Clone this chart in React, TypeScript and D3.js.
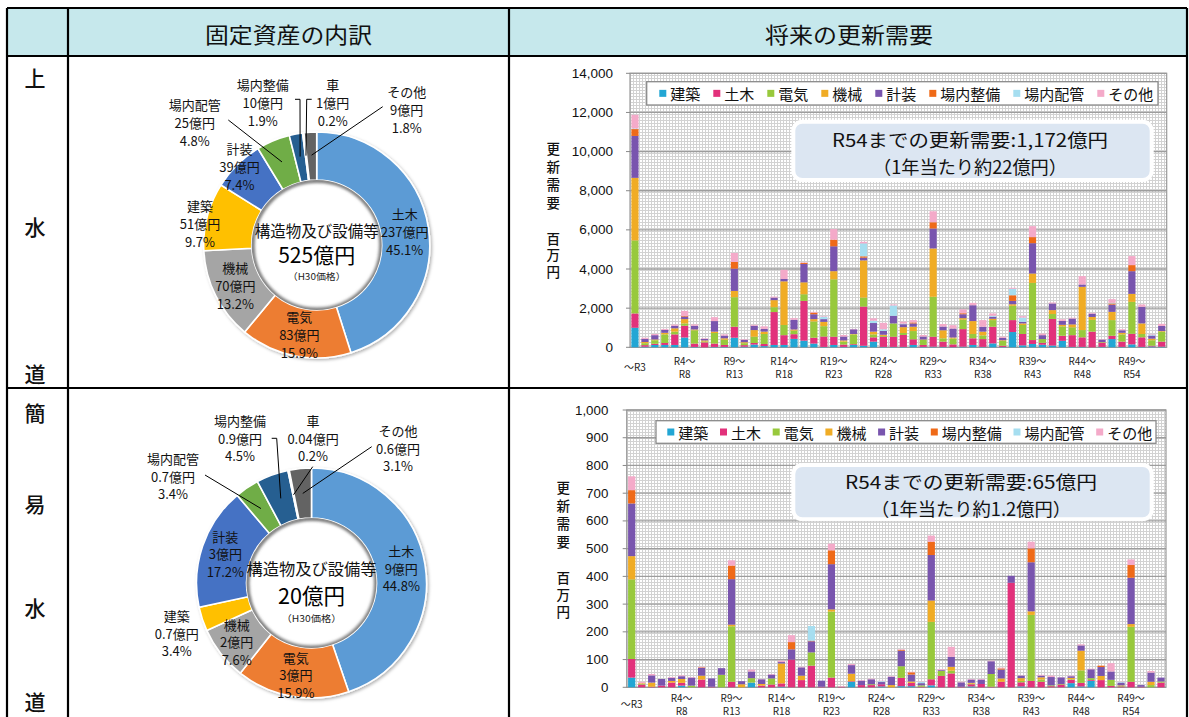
import React from 'react';
import * as d3 from 'd3';

const W = 1189;
const H = 717;
const JP = '"Noto Sans CJK JP", "Noto Sans", sans-serif';
const NUM = '"Liberation Sans", Arial, sans-serif';

// ---------- categories ----------
const YEARS = [
  'R1', 'R2', 'R3', 'R4', 'R5', 'R6', 'R7', 'R8', 'R9', 'R10',
  'R11', 'R12', 'R13', 'R14', 'R15', 'R16', 'R17', 'R18', 'R19', 'R20',
  'R21', 'R22', 'R23', 'R24', 'R25', 'R26', 'R27', 'R28', 'R29', 'R30',
  'R31', 'R32', 'R33', 'R34', 'R35', 'R36', 'R37', 'R38', 'R39', 'R40',
  'R41', 'R42', 'R43', 'R44', 'R45', 'R46', 'R47', 'R48', 'R49', 'R50',
  'R51', 'R52', 'R53', 'R54',
];
const X_GROUPS = [
  { at: 'R1', lines: ['～R3'] },
  { at: 'R6', lines: ['R4～', 'R8'] },
  { at: 'R11', lines: ['R9～', 'R13'] },
  { at: 'R16', lines: ['R14～', 'R18'] },
  { at: 'R21', lines: ['R19～', 'R23'] },
  { at: 'R26', lines: ['R24～', 'R28'] },
  { at: 'R31', lines: ['R29～', 'R33'] },
  { at: 'R36', lines: ['R34～', 'R38'] },
  { at: 'R41', lines: ['R39～', 'R43'] },
  { at: 'R46', lines: ['R44～', 'R48'] },
  { at: 'R51', lines: ['R49～', 'R54'] },
];
const SERIES = ['建築', '土木', '電気', '機械', '計装', '場内整備', '場内配管', 'その他'];
const SERIES_COLORS = ['#22a6d4', '#e2317b', '#98c93c', '#f0ac25', '#7955ae', '#ef6a18', '#a6def0', '#f4aac9'];

// ---------- 上水道 renewal demand (百万円) ----------
const J_KENCHIKU = [1000, 30, 120, 120, 120, 500, 20, 0, 20, 20, 490, 30, 140, 60, 120, 120, 430, 340, 190, 20, 120, 20, 120, 80, 290, 20, 20, 20, 120, 20, 30, 20, 10, 30, 120, 20, 200, 20, 780, 100, 170, 130, 90, 330, 20, 20, 0, 20, 420, 20, 150, 20, 40, 30];
const J_DOBOKU = [730, 80, 60, 100, 540, 600, 170, 250, 170, 100, 560, 80, 80, 110, 1680, 500, 240, 2030, 300, 530, 420, 120, 40, 2000, 220, 520, 520, 610, 290, 100, 510, 270, 140, 900, 340, 400, 850, 60, 610, 580, 200, 100, 1360, 260, 600, 490, 800, 220, 170, 270, 540, 490, 40, 260];
const J_DENKI = [3730, 100, 180, 440, 140, 120, 680, 50, 540, 270, 1510, 100, 320, 510, 250, 520, 180, 340, 830, 530, 2930, 150, 500, 460, 150, 40, 680, 100, 420, 260, 2040, 170, 300, 480, 220, 190, 340, 250, 730, 460, 2920, 190, 250, 480, 400, 370, 600, 30, 800, 370, 1630, 170, 280, 510];
const J_KIKAI = [3200, 60, 40, 80, 170, 220, 40, 50, 70, 70, 320, 50, 340, 120, 360, 2230, 60, 610, 120, 220, 420, 60, 20, 1900, 140, 60, 0, 300, 220, 20, 2470, 410, 50, 80, 660, 190, 70, 30, 80, 80, 480, 0, 200, 80, 150, 2210, 150, 0, 420, 80, 410, 540, 80, 30];
const J_KEISO = [2140, 160, 220, 150, 130, 130, 190, 80, 540, 140, 1140, 120, 220, 140, 130, 120, 500, 940, 250, 140, 1270, 200, 240, 140, 440, 200, 390, 150, 170, 150, 1020, 190, 460, 200, 810, 250, 100, 120, 170, 80, 1550, 200, 340, 200, 300, 120, 170, 120, 370, 130, 1160, 850, 160, 260];
const J_JONAISEIBI = [350, 0, 0, 0, 0, 30, 0, 0, 0, 0, 340, 0, 0, 0, 0, 0, 0, 50, 80, 0, 340, 0, 0, 70, 0, 0, 0, 0, 50, 0, 320, 0, 0, 50, 0, 0, 0, 0, 290, 0, 310, 0, 0, 0, 0, 0, 0, 0, 60, 0, 310, 0, 0, 0];
const J_JONAIHAIKAN = [30, 0, 0, 0, 0, 0, 0, 0, 0, 0, 0, 0, 0, 0, 0, 0, 0, 0, 0, 120, 0, 0, 0, 660, 120, 80, 530, 30, 0, 0, 0, 0, 0, 0, 0, 0, 50, 0, 330, 220, 0, 0, 0, 0, 0, 0, 0, 0, 30, 0, 0, 0, 50, 0];
const J_SONOTA = [700, 60, 60, 50, 60, 260, 70, 30, 200, 60, 460, 30, 50, 130, 50, 470, 80, 30, 40, 30, 540, 80, 20, 80, 120, 330, 50, 100, 120, 80, 560, 130, 170, 200, 120, 340, 120, 60, 50, 70, 560, 80, 50, 80, 40, 430, 40, 20, 190, 50, 460, 120, 30, 110];

// ---------- 簡易水道 renewal demand (百万円) ----------
const K_KENCHIKU = [35, 0, 0, 0, 0, 6, 0, 0, 0, 0, 0, 0, 17, 0, 0, 2, 0, 0, 0, 0, 0, 0, 20, 0, 0, 3, 0, 4, 4, 0, 7, 0, 0, 0, 3, 0, 0, 0, 0, 3, 0, 0, 0, 0, 15, 3, 23, 0, 0, 0, 0, 0, 0, 0];
const K_DOBOKU = [67, 10, 2, 6, 17, 10, 0, 28, 2, 0, 20, 0, 0, 6, 10, 12, 100, 26, 78, 2, 35, 2, 2, 8, 8, 8, 0, 30, 12, 2, 22, 41, 50, 2, 8, 12, 2, 20, 377, 15, 23, 20, 4, 10, 12, 13, 3, 26, 5, 3, 20, 2, 0, 17];
const K_DENKI = [287, 3, 0, 0, 0, 0, 6, 0, 0, 45, 200, 0, 16, 0, 22, 0, 0, 0, 48, 0, 238, 0, 0, 0, 3, 0, 0, 42, 0, 5, 207, 18, 10, 0, 2, 0, 46, 0, 0, 5, 238, 8, 3, 2, 2, 45, 7, 0, 22, 2, 198, 0, 8, 4];
const K_KIKAI = [84, 2, 15, 0, 6, 14, 0, 14, 0, 0, 6, 11, 0, 6, 0, 72, 0, 16, 0, 0, 8, 0, 27, 0, 0, 0, 8, 0, 5, 0, 77, 0, 14, 0, 3, 0, 0, 12, 0, 10, 13, 8, 0, 0, 5, 71, 0, 15, 0, 2, 10, 0, 12, 0];
const K_KEISO = [190, 0, 26, 24, 11, 10, 29, 28, 30, 24, 164, 11, 24, 17, 14, 5, 37, 30, 40, 22, 163, 0, 31, 16, 18, 8, 30, 56, 25, 8, 164, 3, 36, 16, 12, 16, 46, 32, 25, 9, 177, 6, 30, 24, 6, 19, 32, 32, 30, 10, 167, 6, 33, 14];
const K_JONAISEIBI = [48, 0, 0, 0, 0, 0, 0, 2, 0, 0, 49, 0, 0, 0, 0, 0, 26, 0, 2, 0, 50, 0, 0, 0, 0, 0, 0, 3, 8, 0, 48, 0, 0, 0, 0, 0, 0, 4, 0, 0, 50, 0, 0, 0, 0, 0, 0, 5, 0, 0, 46, 0, 0, 0];
const K_JONAIHAIKAN = [0, 0, 0, 0, 0, 0, 0, 0, 0, 0, 0, 0, 0, 0, 0, 0, 0, 0, 53, 0, 0, 0, 0, 0, 0, 3, 0, 0, 0, 4, 0, 0, 0, 0, 0, 0, 0, 0, 0, 0, 0, 0, 0, 0, 0, 0, 0, 0, 0, 2, 0, 0, 0, 0];
const K_SONOTA = [50, 5, 5, 0, 3, 3, 2, 2, 0, 0, 19, 0, 7, 1, 2, 5, 25, 2, 0, 0, 24, 2, 4, 2, 2, 2, 2, 2, 2, 1, 22, 3, 36, 2, 2, 2, 2, 3, 0, 1, 24, 3, 5, 1, 2, 4, 2, 0, 30, 1, 20, 0, 6, 0];

const ANNOT_TOP = ['R54までの更新需要:1,172億円', '（1年当たり約22億円）'];
const ANNOT_BOTTOM = ['R54までの更新需要:65億円', '（1年当たり約1.2億円）'];

// ---------- fixed assets breakdown ----------
const DONUT_CATS = ['土木', '電気', '機械', '建築', '計装', '場内配管', '場内整備', '車', 'その他'];
const DONUT_COLORS = ['#5b9bd5', '#ed7d31', '#a5a5a5', '#ffc000', '#4472c4', '#70ad47', '#255e91', '#9e480e', '#636363'];
const JOSUI_PCT = [45.1, 15.9, 13.2, 9.7, 7.4, 4.8, 1.9, 0.2, 1.8];
const JOSUI_AMT = ['237億円', '83億円', '70億円', '51億円', '39億円', '25億円', '10億円', '1億円', '9億円'];
const KANI_PCT = [44.8, 15.9, 7.6, 3.4, 17.2, 3.4, 4.5, 0.2, 3.1];
const KANI_AMT = ['9億円', '3億円', '2億円', '0.7億円', '3億円', '0.7億円', '0.9億円', '0.04億円', '0.6億円'];

// ---------- layout (positions kept apart from data) ----------
type LabelLayout = { r?: number; at?: [number, number]; lead?: [number, number][] };
const JOSUI_DONUT = {
  cx: 316.7, cy: 245, rOut: 113, rIn: 65, gap: 18,
  title: { y: 229.5, size: 15.5, len: 124 }, value: { text: '525億円', y: 254, size: 21, len: 77 }, sub: { y: 275.5, size: 9.5, len: 58 },
  labels: [
    { r: 89 }, { r: 91 }, { r: 91 }, { at: [-116.7, -22] }, { r: 110 },
    { at: [-122, -123], lead: [[-88.4, -125]] },
    { at: [-54, -143], lead: [[-21.7, -145.7], [-16.7, -145.7]] },
    { at: [16, -143], lead: [[-5, -145.7], [-10, -145.7]] },
    { at: [90, -136], lead: [[66, -138.3]] },
  ] as LabelLayout[],
};
const KANI_DONUT = {
  cx: 311.5, cy: 583, rOut: 115, rIn: 65, gap: 17.5,
  title: { y: 567.5, size: 16, len: 130 }, value: { text: '20億円', y: 594, size: 22, len: 67 }, sub: { y: 618, size: 9.5, len: 60 },
  labels: [
    { r: 91 }, { r: 93 }, { r: 95 }, { at: [-134.8, 50] }, { r: 91 },
    { at: [-138.5, -107], lead: [[-106.5, -108]] },
    { at: [-71.5, -145], lead: [[-39.8, -144.7], [-34.8, -144.7]] },
    { at: [1.5, -145], lead: [[1.2, -116.3]] },
    { at: [86.5, -135], lead: [[60.2, -136.3]] },
  ] as LabelLayout[],
};

const TOP_CFG = {
  id: 'top', x0: 630, x1: 1166.7, yBottom: 347.3, yTop: 73.3, yMax: 14000, yStep: 2000,
  tickRight: 613, tickFont: 13.5,
  yTitleX: 553.3, t1: { y0: 150.7, dy: 18.1 }, t2: { y0: 240, dy: 16.7 },
  xLab: { l1: 360, l2: 373.3, single: 366 },
  legend: { x: 646.7, y: 81.7, w: 511.3, h: 23.3, itemX0: 659.3, gap: 13, font: 15 },
  annot: { x: 793.3, y: 121.7, w: 358.4, h: 58.3, l1y: 139.3, l2y: 166, l1w: 276, l2w: 194, cx: 970 },
};
const BOTTOM_CFG = {
  id: 'bot', x0: 626.7, x1: 1166, yBottom: 687.3, yTop: 410, yMax: 1000, yStep: 100,
  tickRight: 608.3, tickFont: 13.3,
  yTitleX: 563.3, t1: { y0: 490, dy: 18.1 }, t2: { y0: 580, dy: 17 },
  xLab: { l1: 697, l2: 710.5, single: 703.5 },
  legend: { x: 656, y: 420.7, w: 500, h: 22.6, itemX0: 667.3, gap: 11.7, font: 15 },
  annot: { x: 793.3, y: 465, w: 358.4, h: 54.3, l1y: 480.8, l2y: 507.5, l1w: 252, l2w: 200, cx: 971 },
};

// ---------- components ----------
function Donut({ L, pct, amt }: { L: typeof JOSUI_DONUT; pct: number[]; amt: string[] }) {
  const pie = d3.pie<number>().sort(null).value((d) => d);
  const arcs = pie(pct);
  const arc = d3.arc<d3.PieArcDatum<number>>().innerRadius(L.rIn).outerRadius(L.rOut);
  const at = (a: d3.PieArcDatum<number>, r: number): [number, number] => {
    const m = (a.startAngle + a.endAngle) / 2;
    return [r * Math.sin(m), -r * Math.cos(m)];
  };
  const clipId = `hole-${Math.round(L.cx)}`;
  return (
    <g transform={`translate(${L.cx},${L.cy})`}>
      <defs>
        <clipPath id={clipId}><circle r={L.rIn} /></clipPath>
      </defs>
      <g filter="url(#dshadow)">
        {arcs.map((a, i) => (
          <path key={i} d={arc(a) || ''} fill={DONUT_COLORS[i]} stroke="#fff" strokeWidth={1.6} />
        ))}
      </g>
      <g clipPath={`url(#${clipId})`}>
        <circle r={L.rIn} fill="none" stroke="#7a7a7a" strokeWidth={5} filter="url(#blur2)" />
      </g>
      {arcs.map((a, i) => {
        const lay = L.labels[i];
        const p: [number, number] = lay.at ? lay.at : at(a, lay.r || 90);
        const lines = [DONUT_CATS[i], amt[i], `${pct[i].toFixed(1)}%`];
        let lead: string | null = null;
        if (lay.lead) {
          const end = at(a, 90);
          const pts = [...lay.lead, end];
          lead = d3.line()(pts as [number, number][]);
        }
        return (
          <g key={'l' + i}>
            {lead && <path d={lead} fill="none" stroke="#000" strokeWidth={1} />}
            {lines.map((t, k) => (
              <text key={k} x={p[0]} y={p[1] + (k - 1) * L.gap} textAnchor="middle" dominantBaseline="central"
                fontFamily={JP} fontSize={13} fill="#111">{t}</text>
            ))}
          </g>
        );
      })}
      <text x={0} y={L.title.y - L.cy} textAnchor="middle" dominantBaseline="central" fontFamily={JP}
        fontSize={L.title.size} textLength={L.title.len} lengthAdjust="spacingAndGlyphs" fill="#111">構造物及び設備等</text>
      <text x={0} y={L.value.y - L.cy} textAnchor="middle" dominantBaseline="central" fontFamily={JP}
        fontSize={L.value.size} textLength={L.value.len} lengthAdjust="spacingAndGlyphs" fill="#000">{L.value.text}</text>
      <text x={0} y={L.sub.y - L.cy} textAnchor="middle" dominantBaseline="central" fontFamily={JP}
        fontSize={L.sub.size} textLength={L.sub.len} lengthAdjust="spacingAndGlyphs" fill="#222">（H30価格）</text>
    </g>
  );
}

function VerticalTitle({ text, x, y0, dy, size }: { text: string; x: number; y0: number; dy: number; size: number }) {
  const n = text.length;
  const cy = y0 + ((n - 1) * dy) / 2;
  return (
    <text x={x} y={cy} textAnchor="middle" fontFamily={JP} fontSize={size} fontWeight={500} fill="#111"
      style={{ writingMode: 'vertical-rl' as any, letterSpacing: `${dy - size}px` }}>{text}</text>
  );
}

function StackedBars({ C, series, annot }: { C: typeof TOP_CFG; series: number[][]; annot: string[] }) {
  const rows = YEARS.map((yr, i) => {
    const o: Record<string, any> = { year: yr };
    SERIES.forEach((s, k) => { o[s] = series[k][i]; });
    return o;
  });
  const stacked = d3.stack<Record<string, any>>().keys(SERIES)(rows);
  const x = d3.scaleBand<string>().domain(YEARS).range([C.x0, C.x1]).paddingInner(0.28).paddingOuter(0.14);
  const y = d3.scaleLinear().domain([0, C.yMax]).range([C.yBottom, C.yTop]);
  const ticks = d3.range(0, C.yMax + 1, C.yStep);
  const fmt = d3.format(',');
  const bw = x.bandwidth();

  let lx = C.legend.itemX0;
  const legendItems = SERIES.map((s, i) => {
    const item = { s, i, x: lx };
    lx += 7 + 4 + s.length * C.legend.font + C.legend.gap;
    return item;
  });
  const ly = C.legend.y + C.legend.h / 2;

  return (
    <g>
      <rect x={C.x0} y={C.yTop} width={C.x1 - C.x0} height={C.yBottom - C.yTop} fill="url(#dots)" />
      {ticks.map((t) => (
        <line key={t} x1={C.x0} x2={C.x1} y1={y(t)} y2={y(t)} stroke="#9d9d9d" strokeWidth={1.3} />
      ))}
      <rect x={C.x0} y={C.yTop} width={C.x1 - C.x0} height={C.yBottom - C.yTop} fill="none" stroke="#9a9a9a" strokeWidth={1.2} />
      {ticks.map((t) => (
        <g key={'t' + t}>
          <line x1={C.x0 - 4} x2={C.x0} y1={y(t)} y2={y(t)} stroke="#888" strokeWidth={1} />
          <text x={C.tickRight} y={y(t)} textAnchor="end" dominantBaseline="central" fontFamily={NUM}
            fontSize={C.tickFont} fill="#111">{fmt(t)}</text>
        </g>
      ))}
      {stacked.map((layer, k) => (
        <g key={layer.key} fill={SERIES_COLORS[k]}>
          {layer.map((d, i) => {
            const h = y(d[0]) - y(d[1]);
            if (h <= 0) return null;
            return <rect key={i} x={x(YEARS[i])} y={y(d[1])} width={bw} height={h} />;
          })}
        </g>
      ))}
      <rect x={C.legend.x} y={C.legend.y} width={C.legend.w} height={C.legend.h} fill="#fff" stroke="#8a8a8a" strokeWidth={1.3} />
      {legendItems.map((it) => (
        <g key={it.s}>
          <rect x={it.x} y={ly - 3.5} width={7} height={7} fill={SERIES_COLORS[it.i]} />
          <text x={it.x + 11} y={ly} dominantBaseline="central" fontFamily={JP} fontSize={C.legend.font} fill="#111">{it.s}</text>
        </g>
      ))}
      <rect x={C.annot.x} y={C.annot.y} width={C.annot.w} height={C.annot.h} rx={9} fill="#dce6f2" stroke="#fff" strokeWidth={4} />
      <text x={C.annot.cx} y={C.annot.l1y} textAnchor="middle" dominantBaseline="central" fontFamily={JP} fontSize={18}
        textLength={C.annot.l1w} lengthAdjust="spacingAndGlyphs" fill="#111">{annot[0]}</text>
      <text x={C.annot.cx} y={C.annot.l2y} textAnchor="middle" dominantBaseline="central" fontFamily={JP} fontSize={18}
        textLength={C.annot.l2w} lengthAdjust="spacingAndGlyphs" fill="#111">{annot[1]}</text>
      <VerticalTitle text="更新需要" x={C.yTitleX} y0={C.t1.y0} dy={C.t1.dy} size={13.5} />
      <VerticalTitle text="百万円" x={C.yTitleX} y0={C.t2.y0} dy={C.t2.dy} size={13.5} />
      {X_GROUPS.map((g) => {
        const cx = (x(g.at) || 0) + bw / 2;
        if (g.lines.length === 1) {
          return (
            <text key={g.at} x={cx} y={C.xLab.single} textAnchor="middle" dominantBaseline="central" fontFamily={JP}
              fontSize={10} fill="#222">{g.lines[0]}</text>
          );
        }
        return (
          <g key={g.at}>
            <text x={cx} y={C.xLab.l1} textAnchor="middle" dominantBaseline="central" fontFamily={JP} fontSize={10} fill="#222">{g.lines[0]}</text>
            <text x={cx} y={C.xLab.l2} textAnchor="middle" dominantBaseline="central" fontFamily={JP} fontSize={10} fill="#222">{g.lines[1]}</text>
          </g>
        );
      })}
    </g>
  );
}

export default function App() {
  const josuiSeries = [J_KENCHIKU, J_DOBOKU, J_DENKI, J_KIKAI, J_KEISO, J_JONAISEIBI, J_JONAIHAIKAN, J_SONOTA];
  const kaniSeries = [K_KENCHIKU, K_DOBOKU, K_DENKI, K_KIKAI, K_KEISO, K_JONAISEIBI, K_JONAIHAIKAN, K_SONOTA];
  const sideChars1 = [{ c: '上', y: 77 }, { c: '水', y: 226 }, { c: '道', y: 373 }];
  const sideChars2 = [{ c: '簡', y: 412 }, { c: '易', y: 503 }, { c: '水', y: 607 }, { c: '道', y: 701 }];
  const lineW = 2.2;
  return (
    <svg width={W} height={H} viewBox={`0 0 ${W} ${H}`} style={{ position: 'fixed', left: 0, top: 0, background: '#fff' }}>
      <defs>
        <pattern id="dots" width={3} height={3} patternUnits="userSpaceOnUse">
          <rect width={3} height={3} fill="#ffffff" />
          <rect width={3} height={1} fill="#d2d2d2" />
          <rect width={1} height={3} fill="#d2d2d2" />
        </pattern>
        <filter id="dshadow" x="-20%" y="-20%" width="140%" height="140%">
          <feDropShadow dx={1.5} dy={1.5} stdDeviation={1.5} floodColor="#000" floodOpacity={0.3} />
        </filter>
        <filter id="blur2" x="-20%" y="-20%" width="140%" height="140%">
          <feGaussianBlur stdDeviation={1.6} />
        </filter>
      </defs>
      <rect x={0} y={0} width={W} height={H} fill="#fff" />
      <rect x={7} y={8} width={1180} height={48} fill="#c6e8ec" />
      <text x={288.5} y={33} textAnchor="middle" dominantBaseline="central" fontFamily={JP} fontSize={22}
        textLength={167} lengthAdjust="spacingAndGlyphs" fill="#111">固定資産の内訳</text>
      <text x={849} y={33} textAnchor="middle" dominantBaseline="central" fontFamily={JP} fontSize={22}
        textLength={168} lengthAdjust="spacingAndGlyphs" fill="#111">将来の更新需要</text>
      {sideChars1.concat(sideChars2).map((s, i) => (
        <text key={i} x={35} y={s.y} textAnchor="middle" dominantBaseline="central" fontFamily={JP} fontSize={21}
          fontWeight={500} fill="#111">{s.c}</text>
      ))}
      <g stroke="#000" strokeWidth={lineW}>
        <line x1={7} x2={1187} y1={8} y2={8} />
        <line x1={7} x2={1187} y1={56} y2={56} />
        <line x1={7} x2={1187} y1={388} y2={388} />
        <line x1={7} x2={7} y1={8} y2={H} />
        <line x1={68} x2={68} y1={8} y2={H} />
        <line x1={509} x2={509} y1={8} y2={H} />
        <line x1={1187} x2={1187} y1={8} y2={H} />
      </g>
      <Donut L={JOSUI_DONUT} pct={JOSUI_PCT} amt={JOSUI_AMT} />
      <Donut L={KANI_DONUT} pct={KANI_PCT} amt={KANI_AMT} />
      <StackedBars C={TOP_CFG} series={josuiSeries} annot={ANNOT_TOP} />
      <StackedBars C={BOTTOM_CFG} series={kaniSeries} annot={ANNOT_BOTTOM} />
    </svg>
  );
}
